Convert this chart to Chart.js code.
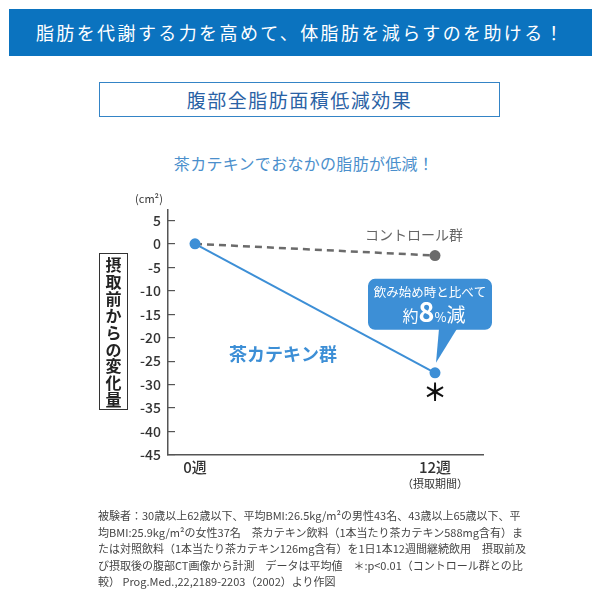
<!DOCTYPE html>
<html>
<head>
<meta charset="utf-8">
<script src="https://cdn.jsdelivr.net/npm/chart.js@4/dist/chart.umd.min.js"></script>
<style>
  html, body { margin: 0; padding: 0; background: #fff; }
  body { width: 600px; height: 600px; position: relative; overflow: hidden;
         font-family: "Noto Sans CJK JP", "Noto Sans", sans-serif; }
  #chart { position: absolute; left: 0; top: 0; }
  .banner { position: absolute; left: 9px; top: 9px; width: 583px; height: 47px;
            background: #0b73bf; color: #fff; font-size: 18px; letter-spacing: 2.4px;
            line-height: 47px; text-align: center; }
  .title { position: absolute; left: 99px; top: 82px; width: 399px; height: 33px;
           border: 1.5px solid #3484c6; color: #2a62a5; font-size: 19px;
           letter-spacing: 1.5px; line-height: 33px; text-align: center; }
  .sub { position: absolute; left: 4px; top: 151px; width: 600px; text-align: center;
         color: #4b8fcc; font-size: 16px; line-height: 24px; letter-spacing: 0.3px; }
  .unit { position: absolute; left: 133px; top: 190px; width: 32px; text-align: center;
          font-size: 11px; color: #333; line-height: 16px; }
  .ytitle { position: absolute; left: 99px; top: 253px; width: 29px; height: 157px;
            border: 1px solid #333; box-sizing: border-box; padding-top: 2px;
            font-size: 16px; font-weight: bold; color: #222; line-height: 16.9px;
            text-align: center; }
  .note { position: absolute; left: 98px; top: 507px; font-size: 11px; color: #444;
          line-height: 16.6px; white-space: nowrap; }
</style>
</head>
<body>
<div class="banner">脂肪を代謝する力を高めて、体脂肪を減らすのを助ける！</div>
<div class="title">腹部全脂肪面積低減効果</div>
<div class="sub">茶カテキンでおなかの脂肪が低減！</div>
<canvas id="chart" width="600" height="600"></canvas>
<div class="unit">(cm²)</div>
<div class="ytitle" id="ytitle"></div>
<div class="note">
被験者：30歳以上62歳以下、平均BMI:26.5kg/m²の男性43名、43歳以上65歳以下、平<br>
均BMI:25.9kg/m²の女性37名　茶カテキン飲料（1本当たり茶カテキン588mg含有）ま<br>
たは対照飲料（1本当たり茶カテキン126mg含有）を1日1本12週間継続飲用　摂取前及<br>
び摂取後の腹部CT画像から計測　データは平均値　＊:p&lt;0.01（コントロール群との比<br>
較） Prog.Med.,22,2189-2203（2002）より作図
</div>
<script>
(function() {

  // weeks since start of intake
  var weeks = [0, 12];
  var weekLabels = ['0週', '12週'];
  var periodNote = '（摂取期間）';

  // change from baseline, cm2
  var seriesNames = ['茶カテキン群', 'コントロール群'];
  var catechin = [0, -27.5];
  var control = [0, -2.5];

  var yTicks = [5, 0, -5, -10, -15, -20, -25, -30, -35, -40, -45];
  var yTitle = '摂取前からの変化量';

  var calloutTop = '飲み始め時と比べて';
  var calloutParts = ['約', '8', '%', '減'];
  var sigMark = '＊';

  var BLUE = '#3d8fd6';
  var GREY = '#6b6b6b';
  var FONT = '"Noto Sans CJK JP", "Noto Sans", sans-serif';

  // stacked one character per line
  document.getElementById('ytitle').innerHTML = yTitle.split('').join('<br>');

  function pts(values){
    return weeks.map(function(w, i){ return {x: w, y: values[i]}; });
  }

  function roundRect(ctx, x, y, w, h, r){
    ctx.beginPath();
    ctx.moveTo(x + r, y);
    ctx.arcTo(x + w, y, x + w, y + h, r);
    ctx.arcTo(x + w, y + h, x, y + h, r);
    ctx.arcTo(x, y + h, x, y, r);
    ctx.arcTo(x, y, x + w, y, r);
    ctx.closePath();
  }

  // labels, callout and significance mark, placed off the scales
  var notes = {
    id: 'notes',
    afterDatasetsDraw: function(chart){
      var ctx = chart.ctx;
      var xs = chart.scales.x, ys = chart.scales.y;
      var px = xs.getPixelForValue(weeks[1]);
      var py = ys.getPixelForValue(catechin[1]);
      var cy = ys.getPixelForValue(control[1]);
      ctx.save();
      ctx.textAlign = 'center';
      ctx.textBaseline = 'middle';

      ctx.fillStyle = '#666';
      ctx.font = '14px ' + FONT;
      ctx.fillText(seriesNames[1], px - 21, cy - 21);

      ctx.fillStyle = BLUE;
      ctx.font = 'bold 18px ' + FONT;
      ctx.fillText(seriesNames[0], xs.getPixelForValue(4.4), ys.getPixelForValue(-23.5));

      // callout bubble
      var left = px - 67, top = py - 94, w = 124, h = 51;
      ctx.fillStyle = BLUE;
      roundRect(ctx, left, top, w, h, 7);
      ctx.fill();
      ctx.beginPath();
      ctx.moveTo(px + 4, top + h - 1);
      ctx.lineTo(px + 22, top + h - 1);
      ctx.lineTo(px + 1, py - 10);
      ctx.closePath();
      ctx.fill();

      ctx.fillStyle = '#fff';
      ctx.font = '12.5px ' + FONT;
      ctx.fillText(calloutTop, left + w / 2, top + 13);

      var fonts = ['16px ', 'bold 27px ', '13px ', '19px '];
      var widths = calloutParts.map(function(p, i){
        ctx.font = fonts[i] + FONT;
        return ctx.measureText(p).width;
      });
      var total = widths.reduce(function(a, b){ return a + b; }, 0);
      var x0 = left + w / 2 + 4 - total / 2;
      ctx.textAlign = 'left';
      ctx.textBaseline = 'alphabetic';
      calloutParts.forEach(function(p, i){
        ctx.font = fonts[i] + FONT;
        ctx.fillText(p, x0, top + 43);
        x0 += widths[i];
      });

      ctx.textAlign = 'center';
      ctx.textBaseline = 'middle';
      ctx.fillStyle = '#111';
      ctx.font = 'bold 24px ' + FONT;
      ctx.fillText(sigMark, px, py + 19);

      ctx.fillStyle = '#333';
      ctx.font = '11px ' + FONT;
      ctx.fillText(periodNote, px, xs.bottom - 16);
      ctx.restore();
    }
  };

  new Chart(document.getElementById('chart'), {
    type: 'line',
    data: {
      datasets: [{
        label: seriesNames[0],
        data: pts(catechin),
        borderColor: BLUE,
        backgroundColor: BLUE,
        borderWidth: 2,
        pointRadius: 5.5,
        pointBackgroundColor: BLUE,
        pointBorderWidth: 0
      }, {
        label: seriesNames[1],
        data: pts(control),
        borderColor: GREY,
        backgroundColor: GREY,
        borderWidth: 2.5,
        borderDash: [7, 5],
        pointRadius: [0, 5.5],
        pointBackgroundColor: GREY,
        pointBorderWidth: 0
      }]
    },
    options: {
      responsive: false,
      animation: false,
      layout: { padding: { left: 108, right: 117, top: 210, bottom: 100 } },
      plugins: { legend: { display: false }, tooltip: { enabled: false } },
      scales: {
        x: {
          type: 'linear',
          min: -1.35,
          max: 14.4,
          afterFit: function(s){ s.height = 45; },
          afterBuildTicks: function(s){
            s.ticks = weeks.map(function(w){ return {value: w}; });
          },
          grid: { display: false, drawTicks: false },
          border: { display: true, color: '#555', width: 1.5 },
          ticks: {
            padding: 3,
            color: '#333',
            font: { family: FONT, size: 15, weight: '500' },
            callback: function(v){ return weekLabels[weeks.indexOf(v)]; }
          }
        },
        y: {
          min: -45,
          max: 7.2,
          afterFit: function(s){ s.width = 60; },
          afterBuildTicks: function(s){
            s.ticks = yTicks.map(function(v){ return {value: v}; });
          },
          grid: { drawOnChartArea: false, tickLength: -7, color: '#555', lineWidth: 1.2 },
          border: { display: true, color: '#555', width: 1.5 },
          ticks: {
            padding: 14,
            color: '#333',
            font: { family: FONT, size: 14, weight: '500' }
          }
        }
      }
    },
    plugins: [notes]
  });

}());
</script>
</body>
</html>
